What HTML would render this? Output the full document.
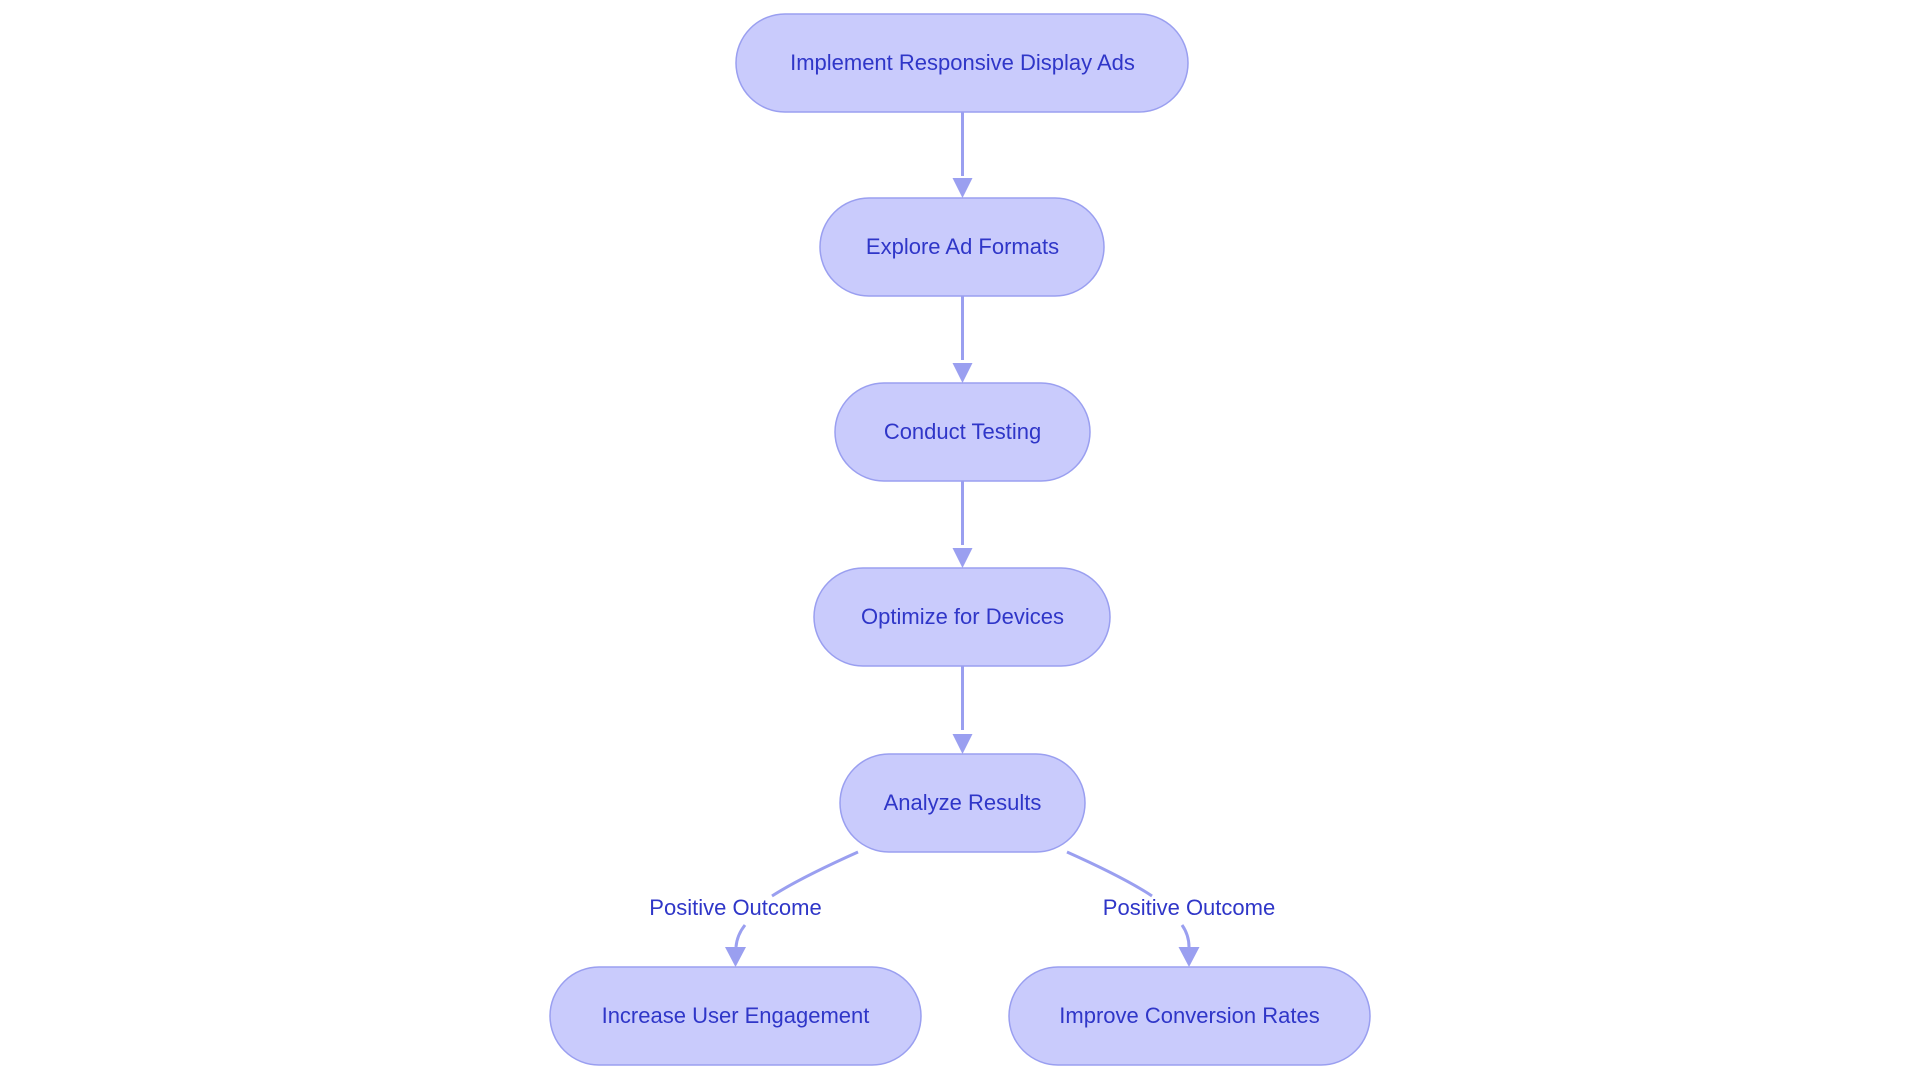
<!DOCTYPE html>
<html><head><meta charset="utf-8"><style>
html,body{margin:0;padding:0;background:#fff;}
svg{display:block}
text{font-family:"Liberation Sans",sans-serif;font-size:22px;fill:#2f36c8;}
</style></head><body>
<svg width="1920" height="1083" viewBox="0 0 1920 1083">
<defs><marker id="a" viewBox="0 0 10 10" refX="9" refY="5" markerWidth="7" markerHeight="7" markerUnits="userSpaceOnUse" orient="auto"><path d="M0,0L10,5L0,10z" fill="#9a9ff0"/></marker></defs>
<g stroke="#9a9ff0" stroke-width="3" fill="none">
<path d="M962.5 112V176"/><path d="M962.5 296V360"/><path d="M962.5 481V545"/><path d="M962.5 666V730"/>
<path d="M858 852 Q800 878 772 896"/><path d="M745 925 Q737 935 736 947"/>
<path d="M1067 852 Q1125 878 1152 896"/><path d="M1182 925 Q1189 935 1189 947"/>
</g>
<g fill="#9a9ff0">
<path d="M952.5 178H972.5L962.5 198Z"/><path d="M952.5 363H972.5L962.5 383Z"/><path d="M952.5 548H972.5L962.5 568Z"/><path d="M952.5 734H972.5L962.5 754Z"/>
<path d="M725 947H746L735.5 967Z"/><path d="M1178.5 947H1199.5L1189 967Z"/>
</g>
<g fill="#c9cbfc" stroke="#9a9ff0" stroke-width="1.5">
<rect x="736" y="14" width="452" height="98" rx="49"/>
<rect x="820" y="198" width="284" height="98" rx="49"/>
<rect x="835" y="383" width="255" height="98" rx="49"/>
<rect x="814" y="568" width="296" height="98" rx="49"/>
<rect x="840" y="754" width="245" height="98" rx="49"/>
<rect x="550" y="967" width="371" height="98" rx="49"/>
<rect x="1009" y="967" width="361" height="98" rx="49"/>
</g>
<g text-anchor="middle">
<text x="962.5" y="70">Implement Responsive Display Ads</text>
<text x="962.5" y="254">Explore Ad Formats</text>
<text x="962.5" y="439">Conduct Testing</text>
<text x="962.5" y="624">Optimize for Devices</text>
<text x="962.5" y="810">Analyze Results</text>
<text x="735.5" y="1023">Increase User Engagement</text>
<text x="1189.5" y="1023">Improve Conversion Rates</text>
<text x="735.5" y="915">Positive Outcome</text>
<text x="1189" y="915">Positive Outcome</text>
</g>
</svg>
</body></html>
